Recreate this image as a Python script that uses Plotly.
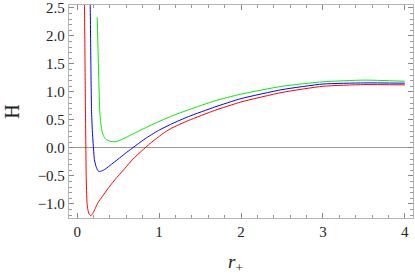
import plotly.graph_objects as go

# Values
red_x = [0.085, 0.089, 0.095, 0.101, 0.106, 0.11, 0.12, 0.13, 0.145, 0.167, 0.19, 0.22, 0.256, 0.30, 0.378, 0.42, 0.50, 0.585, 0.68, 0.79, 0.89, 0.99, 1.07, 1.155, 1.36, 1.68, 2.0, 2.5, 3.0, 3.5, 4.0]
red_y = [3.0, 2.55, 1.6, 0.68, 0.0, -0.51, -0.98, -1.1, -1.18, -1.21, -1.17, -1.08, -0.97, -0.88, -0.72, -0.64, -0.50, -0.36, -0.20, -0.05, 0.08, 0.195, 0.28, 0.355, 0.49, 0.67, 0.82, 0.99, 1.10, 1.13, 1.125]

blue_x = [0.155, 0.159, 0.167, 0.175, 0.185, 0.195, 0.21, 0.23, 0.25, 0.268, 0.30, 0.34, 0.42, 0.50, 0.585, 0.667, 0.75, 0.83, 0.99, 1.155, 1.36, 1.68, 2.0, 2.5, 3.0, 3.5, 4.0]
blue_y = [3.0, 2.55, 1.5, 0.68, 0.3, 0.08, -0.21, -0.33, -0.40, -0.42, -0.41, -0.38, -0.29, -0.20, -0.10, -0.01, 0.08, 0.165, 0.31, 0.43, 0.56, 0.73, 0.88, 1.04, 1.14, 1.16, 1.155]

green_x = [0.244, 0.255, 0.265, 0.275, 0.28, 0.285, 0.30, 0.32, 0.35, 0.40, 0.46, 0.52, 0.585, 0.75, 0.95, 1.155, 1.36, 1.68, 2.0, 2.5, 3.0, 3.5, 4.0]
green_y = [2.33, 1.7, 1.15, 0.68, 0.56, 0.47, 0.32, 0.22, 0.155, 0.12, 0.11, 0.135, 0.18, 0.30, 0.44, 0.57, 0.68, 0.84, 0.96, 1.10, 1.18, 1.21, 1.19]

x_ticks = [0, 1, 2, 3, 4]
y_ticks = [-1.0, -0.5, 0.0, 0.5, 1.0, 1.5, 2.0, 2.5]

FONT = "Liberation Serif, Times New Roman, serif"
FRAME = "#b4b4b4"

fig = go.Figure()
for xs, ys, col in [(red_x, red_y, "#ff0000"), (blue_x, blue_y, "#0000ff"), (green_x, green_y, "#00ee00")]:
    fig.add_trace(go.Scatter(x=xs, y=ys, mode="lines",
                             line=dict(color=col, width=1, shape="spline", smoothing=0.5),
                             showlegend=False, hoverinfo="skip"))

axis_common = dict(showgrid=False, showline=True, linecolor=FRAME, linewidth=1.3, automargin=False,
                   mirror="allticks", ticks="inside", tickcolor="#888888", ticklen=5, tickwidth=1)

fig.update_xaxes(range=[-0.1, 4.1], tickvals=x_ticks, ticktext=[str(v) for v in x_ticks],
                 zeroline=False, tickfont=dict(family=FONT, size=15, color="#222222"),
                 minor=dict(dtick=0.2, tick0=0, ticks="inside", ticklen=3, tickcolor="#999999"),
                 **axis_common)
fig.update_yaxes(range=[-1.25, 2.55], tickvals=y_ticks,
                 ticktext=[("\u2212%.1f" % -v) if v < 0 else "%.1f" % v for v in y_ticks],
                 zeroline=True, zerolinecolor="#999999", zerolinewidth=1,
                 tickfont=dict(family=FONT, size=15, color="#222222"),
                 minor=dict(dtick=0.1, tick0=0, ticks="inside", ticklen=3, tickcolor="#999999"),
                 **axis_common)

fig.add_annotation(text="H", xref="paper", yref="paper", x=-0.166, y=0.498,
                   xanchor="center", yanchor="middle",
                   showarrow=False, textangle=-90,
                   font=dict(family=FONT, size=20, color="#222222"))
fig.add_annotation(text="<i>r</i><sub>+</sub>", xref="paper", yref="paper", x=0.4826, y=-0.21,
                   xanchor="center", yanchor="middle",
                   showarrow=False, font=dict(family=FONT, size=19, color="#222222"))

fig.update_layout(width=415, height=275, margin=dict(l=69, r=2, t=5, b=57),
                  font=dict(family=FONT, size=15, color="#222222"),
                  paper_bgcolor="white", plot_bgcolor="white")

fig.write_html("out.html", config={"displayModeBar": False},
               post_script="document.body.style.margin='0';document.body.style.overflow='hidden';")
